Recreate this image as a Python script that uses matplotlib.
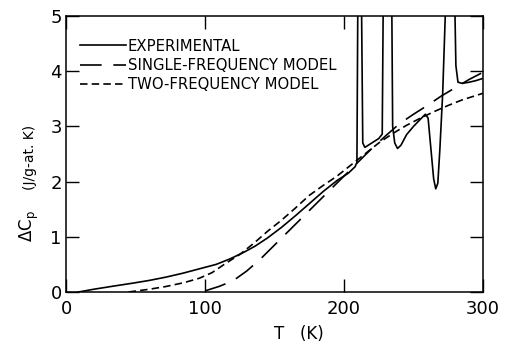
import matplotlib
matplotlib.use("Agg")
import matplotlib.pyplot as plt

# experimental curve (K, J/g-at.K); values above 5 run off the top
t_exp = [9, 20, 35, 48, 60, 72, 84, 96, 108, 118, 128, 136, 145, 155, 165,
         175, 185, 195, 203, 208, 209.3, 210, 212.5, 213.5, 215, 220, 225,
         227.5, 228.3, 234.3, 235, 236.5, 238.5, 241, 245, 250, 255, 258.5,
         260.5, 262.5, 264.5, 266, 267.5, 269, 271, 273.5, 279.5, 280.5,
         282, 285, 290, 295, 300]
cp_exp = [0, 0.05, 0.11, 0.16, 0.21, 0.27, 0.34, 0.42, 0.5, 0.6, 0.72, 0.83,
          0.98, 1.17, 1.38, 1.6, 1.82, 2.02, 2.15, 2.27, 2.35, 5.5, 5.5, 2.7,
          2.62, 2.7, 2.78, 2.86, 5.5, 5.5, 3.0, 2.7, 2.6, 2.66, 2.85, 3.0,
          3.13, 3.22, 3.15, 2.6, 2.05, 1.87, 1.97, 2.6, 3.6, 5.5, 5.5, 4.1,
          3.8, 3.78, 3.8, 3.83, 3.87]

t_single = [100, 110, 120, 130, 140, 150, 160, 170, 180, 190, 200, 210, 220,
            230, 240, 250, 260, 270, 280, 290, 300]
cp_single = [0.02, 0.1, 0.2, 0.38, 0.6, 0.85, 1.1, 1.35, 1.6, 1.85, 2.1, 2.35,
             2.6, 2.83, 3.05, 3.22, 3.38, 3.55, 3.7, 3.85, 3.98]

t_two = [45, 60, 72, 85, 96, 105, 115, 125, 135, 145, 155, 165, 175, 185,
         195, 205, 215, 225, 235, 245, 255, 265, 275, 285, 300]
cp_two = [0, 0.05, 0.1, 0.17, 0.25, 0.35, 0.52, 0.68, 0.88, 1.1, 1.3, 1.52,
          1.75, 1.93, 2.1, 2.3, 2.5, 2.7, 2.87, 3.02, 3.15, 3.27, 3.38, 3.48,
          3.6]

labels = ["EXPERIMENTAL", "SINGLE-FREQUENCY MODEL", "TWO-FREQUENCY MODEL"]

fig = plt.figure(figsize=(5.05, 3.43), dpi=100)
ax = fig.add_axes([66 / 505, 51 / 343, 417 / 505, 276 / 343])

lw = 1.2
ax.plot(t_exp, cp_exp, color="black", lw=lw, label=labels[0])
ax.plot(t_single, cp_single, color="black", lw=lw, dashes=(13, 7),
        label=labels[1])
ax.plot(t_two, cp_two, color="black", lw=lw, dashes=(4.5, 2.5),
        label=labels[2])

ax.set_xlim(0, 300)
ax.set_ylim(0, 5)
ax.set_xticks([0, 100, 200, 300])
ax.set_yticks([0, 1, 2, 3, 4, 5])
ax.tick_params(direction="in", length=9.5, width=1, top=True, right=True,
               labelsize=13)
ax.tick_params(axis="x", pad=6)
ax.tick_params(axis="y", pad=3)
for s in ax.spines.values():
    s.set_linewidth(1.1)

leg = ax.legend(loc="upper left", bbox_to_anchor=(0.02, 0.94), frameon=False,
                fontsize=10.7, handlelength=3.1, handletextpad=0.1,
                labelspacing=0.3, borderaxespad=0)

fig.text(299 / 505, 1 - 334 / 343, "T   (K)", ha="center", va="center",
         fontsize=12)
fig.text(29 / 505, 1 - 226 / 343, r"$\Delta$C$_\mathrm{p}$", rotation=90,
         ha="center", va="center", fontsize=12)
fig.text(30 / 505, 1 - 157 / 343, "(J/g-at. K)", rotation=90, ha="center",
         va="center", fontsize=10)

fig.savefig("out.png", dpi=100)
